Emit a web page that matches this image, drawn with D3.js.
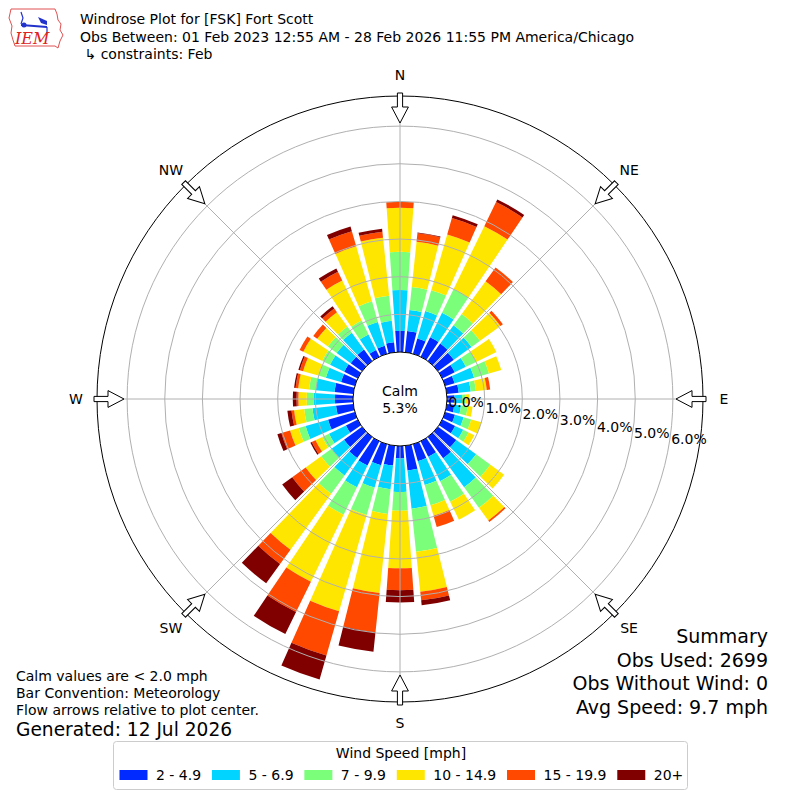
<!DOCTYPE html>
<html>
<head>
<meta charset="utf-8">
<script src="https://cdn.jsdelivr.net/npm/d3@7"></script>
<style>
  body { margin: 0; background: #fff; }
  svg { font-family: "DejaVu Sans", sans-serif; }
</style>
</head>
<body>
<svg width="800" height="800"></svg>
<script>
// --- data (percent of obs per direction / speed bin) ---
const directions = d3.range(0, 360, 10);
const speedBins = ["2 - 4.9", "5 - 6.9", "7 - 9.9", "10 - 14.9", "15 - 19.9", "20+"];
const binColors = ["#002aff", "#00d4ff", "#7bff7b", "#ffe600", "#ff4800", "#800000"];

const bin1 = [0.56,0.57,0.42,0.58,0.57,0.52,0.37,0.26,0.32,0.20,0.20,0.27,0.38,0.60,0.70,0.46,0.47,0.66,
              0.33,0.53,0.58,0.72,0.69,0.59,0.35,0.74,0.46,0.48,0.50,0.38,0.40,0.37,0.38,0.20,0.22,0.27];
const bin2 = [1.09,0.56,0.76,0.72,0.60,0.58,0.33,0.54,0.32,0.20,0.18,0.24,0.24,0.65,0.95,0.72,0.66,1.02,
              0.89,0.63,0.62,0.64,0.57,0.41,0.50,0.62,0.63,0.57,0.50,0.42,0.42,0.46,0.55,0.46,0.66,0.57];
const bin3 = [1.01,0.61,0.58,0.70,0.37,0.28,0.30,0.41,0.14,0.10,0.18,0.21,0.16,0.47,0.67,0.61,0.56,1.15,
              0.50,0.66,0.76,0.81,0.60,0.34,0.20,0.19,0.22,0.18,0.18,0.21,0.23,0.29,0.20,0.41,0.57,0.67];
const bin4 = [1.17,1.21,1.54,1.86,1.08,0.67,0.60,0.34,0.29,0.10,0.13,0.28,0.17,0.45,0.42,0.53,0.29,1.07,
              1.53,2.11,2.66,1.98,1.84,0.51,0.20,0.24,0.27,0.22,0.29,0.42,0.56,0.35,0.47,1.18,1.52,1.55];
const bin5 = [0.16,0.23,0.45,0.71,0.45,0.08,0,0,0.09,0,0,0,0,0,0.05,0,0.31,0.23,
              0.58,1.05,1.22,0.90,0.47,0.44,0.11,0.24,0.07,0.05,0.07,0.09,0.11,0.13,0.12,0.26,0.42,0.16];
const bin6 = [0,0.02,0.08,0.08,0,0,0,0,0,0,0,0,0,0,0,0,0,0.13,
              0.33,0.52,0.66,0.65,0.63,0.33,0.04,0.11,0.11,0.10,0.04,0.04,0,0,0.08,0.10,0.13,0.08];
const bins = [bin1, bin2, bin3, bin4, bin5, bin6];

const calmPct = 5.3;
const rTicks = [0, 1, 2, 3, 4, 5, 6];
const compassNames = ["N", "NE", "E", "SE", "S", "SW", "W", "NW"];
const compassAngles = [0, 45, 90, 135, 180, 225, 270, 315];

const titleLines = [
  "Windrose Plot for [FSK] Fort Scott",
  "Obs Between: 01 Feb 2023 12:55 AM - 28 Feb 2026 11:55 PM America/Chicago",
  " \u21b3 constraints: Feb"
];
const noteLines = ["Calm values are < 2.0 mph", "Bar Convention: Meteorology",
                   "Flow arrows relative to plot center."];
const generatedText = "Generated: 12 Jul 2026";
const summaryLines = ["Summary", "Obs Used: 2699", "Obs Without Wind: 0", "Avg Speed: 9.7 mph"];

// --- setup ---
const svg = d3.select("svg");
const cx = 400, cy = 399;
const rCalm = 47, rOuter = 303;
const rmax = 6.8;
const r = d3.scaleLinear().domain([0, rmax]).range([rCalm, rOuter]);
const rad = (deg) => deg * Math.PI / 180;
const barHalf = 4; // degrees

const g = svg.append("g").attr("transform", `translate(${cx},${cy})`);

// plot background / outer frame
g.append("circle").attr("r", rOuter).attr("fill", "#fff");

// stacked bars
const stacked = [];
directions.forEach((dir, i) => {
  let acc = 0;
  bins.forEach((b, k) => {
    const v = b[i];
    if (v > 0) stacked.push({ dir, k, y0: acc, y1: acc + v });
    acc += v;
  });
});

const arc = d3.arc()
  .innerRadius((d) => r(d.y0))
  .outerRadius((d) => r(d.y1))
  .startAngle((d) => rad(d.dir - barHalf))
  .endAngle((d) => rad(d.dir + barHalf));

g.selectAll("path.bar")
  .data(stacked)
  .enter()
  .append("path")
  .attr("class", "bar")
  .attr("d", arc)
  .attr("fill", (d) => binColors[d.k]);

// grid
g.selectAll("circle.grid")
  .data(rTicks.filter((t) => t > 0))
  .enter()
  .append("circle")
  .attr("r", (t) => r(t))
  .attr("fill", "none")
  .attr("stroke", "#b0b0b0")
  .attr("stroke-width", 1);

g.selectAll("line.spoke")
  .data(compassAngles)
  .enter()
  .append("line")
  .attr("x1", 0).attr("y1", 0)
  .attr("x2", (a) => rOuter * Math.sin(rad(a)))
  .attr("y2", (a) => -rOuter * Math.cos(rad(a)))
  .attr("stroke", "#b0b0b0")
  .attr("stroke-width", 1);

g.append("circle").attr("r", rOuter).attr("fill", "none")
  .attr("stroke", "#000").attr("stroke-width", 1);

// calm circle
g.append("circle").attr("r", rCalm).attr("fill", "#fff")
  .attr("stroke", "#000").attr("stroke-width", 1);
g.append("text").attr("x", 0).attr("y", -3).attr("text-anchor", "middle")
  .attr("font-size", 14).text("Calm");
g.append("text").attr("x", 0).attr("y", 13.5).attr("text-anchor", "middle")
  .attr("font-size", 14).text(calmPct.toFixed(1) + "%");

// radial tick labels
const labAng = rad(9.5);
g.selectAll("text.rtick")
  .data(rTicks)
  .enter()
  .append("text")
  .attr("x", (t) => r(t) * Math.cos(labAng) + 2)
  .attr("y", (t) => r(t) * Math.sin(labAng))
  .attr("font-size", 14)
  .text((t) => d3.format(".1f")(t) + "%");

// flow arrows
const arrowPath = (() => {
  const tail = 306, neck = 292, tip = 276, sw = 2.6, hw = 8.4;
  return `M${-sw},${-tail} L${sw},${-tail} L${sw},${-neck} L${hw},${-neck} L0,${-tip} L${-hw},${-neck} L${-sw},${-neck} Z`;
})();
g.selectAll("path.arrow")
  .data(compassAngles)
  .enter()
  .append("path")
  .attr("d", arrowPath)
  .attr("transform", (a) => `rotate(${a})`)
  .attr("fill", "#fff")
  .attr("stroke", "#000")
  .attr("stroke-width", 1);

// compass labels
g.selectAll("text.compass")
  .data(compassNames)
  .enter()
  .append("text")
  .attr("x", (n, i) => 324 * Math.sin(rad(compassAngles[i])))
  .attr("y", (n, i) => -324 * Math.cos(rad(compassAngles[i])) + 5)
  .attr("text-anchor", "middle")
  .attr("font-size", 14)
  .text((n) => n);

// header
svg.selectAll("text.title")
  .data(titleLines)
  .enter()
  .append("text")
  .attr("x", 80)
  .attr("y", (d, i) => 24 + i * 17.5)
  .attr("font-size", 14)
  .attr("xml:space", "preserve")
  .style("white-space", "pre")
  .text((d) => d);

// logo
const logo = svg.append("g");
logo.append("path")
  .attr("d", "M11,9 L55,9 L57,14 L58,20 L61,24 L60,30 L63,35 L60,41 L58,48 L55,46 L15,46 L13,40 L11,33 L12,26 L9,18 Z")
  .attr("fill", "none").attr("stroke", "#e05050").attr("stroke-width", 1);
logo.append("path").attr("d", "M21,12 L23,18 L21,24")
  .attr("fill", "none").attr("stroke", "#2233cc").attr("stroke-width", 1.2);
logo.append("path").attr("d", "M21,25 L47,27").attr("stroke", "#2233cc").attr("stroke-width", 2.2);
logo.append("circle").attr("cx", 24).attr("cy", 25).attr("r", 2.5).attr("fill", "#2233cc");
logo.append("path").attr("d", "M38,17 L47,21 L47,25 L41,23 Z").attr("fill", "#2233cc");
logo.append("path").attr("d", "M47,27 L47,33").attr("stroke", "#2233cc").attr("stroke-width", 1.2);
logo.append("text").attr("x", 15).attr("y", 44)
  .attr("font-family", "DejaVu Serif, serif").attr("font-style", "italic")
  .attr("font-size", 16).attr("fill", "#d22").text("IEM");

// notes bottom-left
svg.selectAll("text.note")
  .data(noteLines)
  .enter()
  .append("text")
  .attr("x", 16)
  .attr("y", (d, i) => 681 + i * 17)
  .attr("font-size", 14)
  .text((d) => d);
svg.append("text").attr("x", 16).attr("y", 736).attr("font-size", 18.6).text(generatedText);

// summary bottom-right
svg.selectAll("text.summary")
  .data(summaryLines)
  .enter()
  .append("text")
  .attr("x", 768)
  .attr("y", (d, i) => 643 + i * 23.5)
  .attr("text-anchor", "end")
  .attr("font-size", 19)
  .text((d) => d);

// legend
const leg = svg.append("g");
leg.append("rect")
  .attr("x", 113.5).attr("y", 741.5).attr("width", 574).attr("height", 48)
  .attr("rx", 3).attr("fill", "#fff").attr("stroke", "#cccccc");
leg.append("text").attr("x", 401).attr("y", 758).attr("text-anchor", "middle")
  .attr("font-size", 14).text("Wind Speed [mph]");
let lx = 119.5;
speedBins.forEach((lab, k) => {
  leg.append("rect").attr("x", lx).attr("y", 770).attr("width", 28).attr("height", 10)
    .attr("fill", binColors[k]);
  const t = leg.append("text").attr("x", lx + 36.5).attr("y", 780).attr("font-size", 14).text(lab);
  lx += 36.5 + t.node().getComputedTextLength() + 10.8;
});
</script>
</body>
</html>
